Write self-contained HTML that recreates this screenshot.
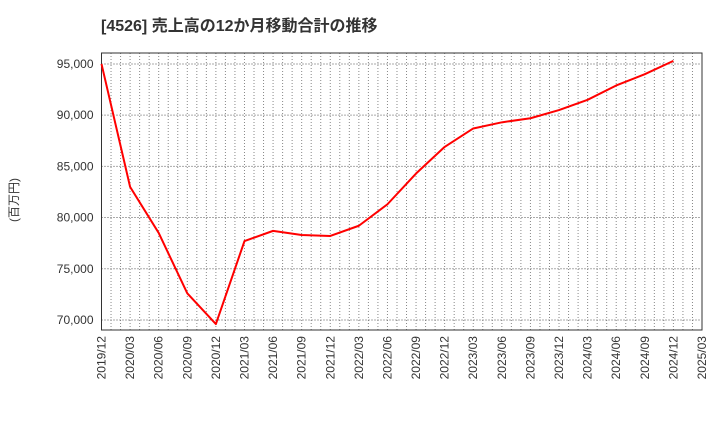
<!DOCTYPE html>
<html><head><meta charset="utf-8"><style>
body{margin:0;background:#fff;width:720px;height:440px;overflow:hidden;font-family:"Liberation Sans","Noto Sans CJK JP",sans-serif}
</style></head><body>
<svg id="c" width="720" height="440" xmlns="http://www.w3.org/2000/svg">
<text x="101" y="31" font-size="16" font-weight="bold" fill="#333">[4526]  売上高の12か月移動合計の推移</text>
<text transform="translate(18,200) rotate(-90)" font-size="12" fill="#333" text-anchor="middle">(百万円)</text>
</svg>
<script>
const categories=["2019/12","2020/03","2020/06","2020/09","2020/12","2021/03","2021/06","2021/09","2021/12","2022/03","2022/06","2022/09","2022/12","2023/03","2023/06","2023/09","2023/12","2024/03","2024/06","2024/09","2024/12"];
const values=[95000,83000,78500,72600,69600,77700,78700,78300,78200,79200,81300,84300,86900,88700,89300,89700,90500,91500,92900,94000,95300];
const xTicks=["2019/12","2020/03","2020/06","2020/09","2020/12","2021/03","2021/06","2021/09","2021/12","2022/03","2022/06","2022/09","2022/12","2023/03","2023/06","2023/09","2023/12","2024/03","2024/06","2024/09","2024/12","2025/03"];
const yTicks=[70000,75000,80000,85000,90000,95000];
const NS="http://www.w3.org/2000/svg",svg=document.getElementById('c');
const L=101.5,R=702,T=53,B=330,yMin=69020,yMax=96070;
const x=i=>L+(R-L)*i/(xTicks.length-1);
const y=v=>B-(v-yMin)/(yMax-yMin)*(B-T);
function mk(t,a){const e=document.createElementNS(NS,t);for(const k in a)e.setAttribute(k,a[k]);svg.appendChild(e);return e;}
for(let m=1;m<63;m++){const xx=L+(R-L)*m/63;const g=mk('line',{x1:xx,x2:xx,y1:T,y2:B,stroke:'#888','stroke-dasharray':'1,2','stroke-width':1});

}
yTicks.forEach(v=>{const g=mk('line',{x1:L,x2:R,y1:y(v),y2:y(v),stroke:'#555','stroke-dasharray':'1,2','stroke-width':1});


const t=mk('text',{x:L-8,y:y(v)+4,'font-size':12,fill:'#333','text-anchor':'end'});t.textContent=v.toLocaleString('en-US');

});
xTicks.forEach((c,i)=>{const t=mk('text',{transform:`translate(${x(i)+4},336) rotate(-90)`,'font-size':12,fill:'#333','text-anchor':'end'});t.textContent=c;

});
const f=mk('rect',{x:L,y:T,width:R-L,height:B-T,fill:'none',stroke:'#333','stroke-width':1});


const p=mk('polyline',{points:values.map((v,i)=>x(i)+','+y(v)).join(' '),fill:'none',stroke:'#ff0000','stroke-width':2,'stroke-linejoin':'round'});


</script>
</body></html>
